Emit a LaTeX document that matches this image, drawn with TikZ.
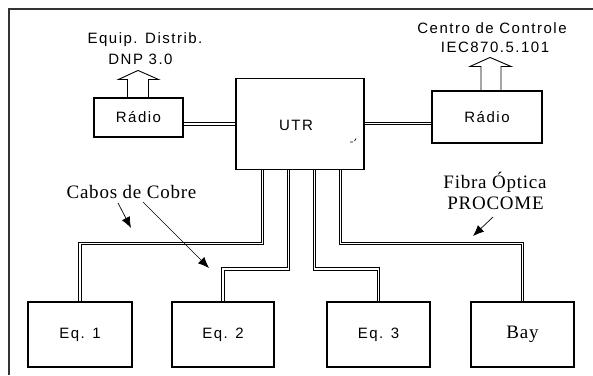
\documentclass[tikz,border=0pt]{standalone}
\usepackage{fontspec}
\usetikzlibrary{arrows.meta}
\newfontfamily\sansL[LetterSpace=10]{Liberation Sans}
\newfontfamily\serifL[LetterSpace=4]{Liberation Serif}
\tikzset{
  box/.style={draw, line width=1.1pt, rectangle, inner sep=0pt, font=\sansL\fontsize{15}{17}\selectfont},
  cable/.style={draw, double, double distance=1.6pt, line width=0.9pt},
  lbl/.style={inner sep=0pt, align=center, font=\sansL\fontsize{15}{19}\selectfont},
  slbl/.style={inner sep=0pt, align=center, font=\serifL\fontsize{19}{21}\selectfont},
  pointer/.style={line width=0.7pt, -{Latex[length=11pt,width=9pt]}},
  hollow/.style={line width=0.9pt},
}
\begin{document}
\begin{tikzpicture}[x=1pt,y=-1pt]
\useasboundingbox (0,0) rectangle (593,375);
% frame
\draw[line width=1.1pt, black!80] (9,375) -- (9,9) -- (593,9);
% boxes
\node[box, minimum width=89pt, minimum height=39pt] (radioL) at (138.5,117.5) {Rádio};
\node[box, minimum width=128pt, minimum height=91pt] (utr) at (300,124) {};
\node[lbl] (utrtxt) at (296,125) {UTR};
\node[box, minimum width=110pt, minimum height=52pt] (radioR) at (487,117) {Rádio};
\node[box, minimum width=104pt, minimum height=65pt] (eq1) at (80,334.5) {Eq. 1};
\node[box, minimum width=102pt, minimum height=65pt] (eq2) at (223,334.5) {Eq. 2};
\node[box, minimum width=103pt, minimum height=65pt] (eq3) at (378.5,334.5) {Eq. 3};
\node[box, minimum width=103pt, minimum height=65pt, font=\serifL\fontsize{19}{21}\selectfont] (bay) at (522.5,334.5) {Bay};
% small mark inside UTR
\draw[line width=0.7pt] (350,142) -- (353,142) (354.5,141) -- (356,138.5);
% radio links
\draw[cable] (radioL.east |- 0,124) -- (utr.west |- 0,124);
\draw[cable] (utr.east |- 0,123.5) -- (radioR.west |- 0,123.5);
% cables to equipment
\draw[cable] ([xshift=-37.5pt]utr.south) -- ++(0,73.5) -| (eq1.north);
\draw[cable] ([xshift=-11.5pt]utr.south) -- ++(0,99) -| (eq2.north);
\draw[cable] ([xshift=14.5pt]utr.south) -- ++(0,99) -| (eq3.north);
\draw[cable] ([xshift=40.5pt]utr.south) -- ++(0,73.5) -| (bay.north);
% hollow arrows
\draw[hollow] ([xshift=-11pt]radioL.north) -- ++(0,-18) -- ++(-9,0) -- ++(19.5,-9) -- ++(20.5,9) -- ++(-10,0) -- ([xshift=10pt]radioL.north);
\draw[hollow] ([xshift=-6pt]radioR.north) -- ++(0,-24) -- ++(-11,0) -- ++(20,-9) -- ++(21,9) -- ++(-10,0) -- ([xshift=14pt]radioR.north);
% labels
\node[lbl] (equip) at (145,40) {Equip. Distrib.};
\node[lbl] (dnp) at (140.5,59) {DNP 3.0};
\node[lbl] (centro) at (492,28) {Centro de Controle};
\node[lbl] (iec) at (495,47) {IEC870.5.101};
\node[slbl] (cabos) at (131.5,192) {Cabos de Cobre};
\node[slbl] (fibra) at (495,182) {Fibra Óptica};
\node[slbl] (procome) at (495.5,203) {PROCOME};
% pointer arrows
\coordinate (c1) at (131,228);
\coordinate (c2) at (209,268);
\coordinate (f1) at (473,236);
\draw[pointer] (118,203) -- (c1);
\draw[pointer] (143,202) -- (c2);
\draw[pointer] (493,217) -- (f1);
\end{tikzpicture}
\end{document}
